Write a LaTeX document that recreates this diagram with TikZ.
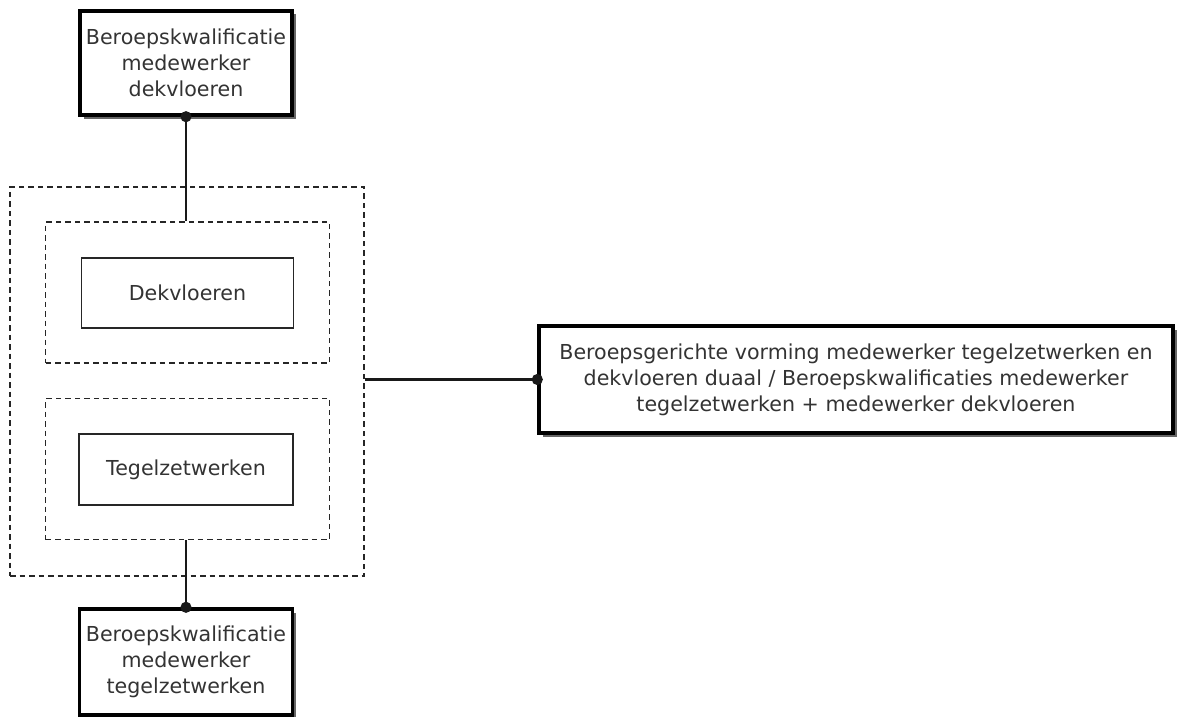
\documentclass[tikz,border=0pt]{standalone}
\usepackage{fontspec}
\setmainfont{DejaVu Sans}
\usetikzlibrary{arrows.meta,shadows}
\definecolor{txtgray}{HTML}{333333}
\tikzset{
  qualbox/.style={draw=black, line width=3.4pt, fill=white, align=center, inner sep=0pt,
    drop shadow={shadow xshift=3.5pt, shadow yshift=-3.5pt, fill=black, opacity=0.6}},
  unitbox/.style={draw=black!85, line width=1.8pt, fill=white, inner sep=0pt},
  groupbox/.style={draw=black!85, line width=1.7pt, dash pattern=on 5.5pt off 4pt, inner sep=0pt},
  conn/.style={line width=2.2pt, black!90}
}
\begin{document}
\begin{tikzpicture}[x=1pt, y=-1pt, font=\fontsize{20.6}{26}\selectfont, text=txtgray]
        \useasboundingbox (0,0) rectangle (1179,717);

        % Define the dashed groups
        \node[groupbox, minimum width=354pt, minimum height=389pt] (outer) at (187,381.5) {};
        \node[groupbox, minimum width=284pt, minimum height=141pt] (grpdek) at (187.5,292.5) {};
        \node[groupbox, minimum width=284pt, minimum height=141pt] (grptegel) at (187.5,469) {};

        % Draw the units inside the groups
        \node[unitbox, minimum width=212pt, minimum height=70pt] (dek) at (187.5,293) {Dekvloeren};
        \node[unitbox, minimum width=214pt, minimum height=71pt] (tegel) at (186,469.5) {Tegelzetwerken};

        % Draw the qualifications
        \node[qualbox, minimum width=212pt, minimum height=104pt] (qdek) at (186,63)
          {Beroepskwalificatie\\medewerker\\dekvloeren};
        \node[qualbox, minimum width=213pt, minimum height=106pt] (qtegel) at (186,662)
          {Beroepskwalificatie\\medewerker\\tegelzetwerken};
        \node[qualbox, minimum width=634pt, minimum height=107pt] (duaal) at (856,379.5)
          {Beroepsgerichte vorming medewerker tegelzetwerken en\\dekvloeren duaal / Beroepskwalificaties medewerker\\tegelzetwerken + medewerker dekvloeren};

        % Draw connectors, dot centred on the box border
        \draw[conn, {Circle[length=11pt]}-, shorten <=-5.5pt] (qdek.south) -- (qdek.south |- grpdek.north);
        \draw[conn, -{Circle[length=11pt]}, shorten >=-5.5pt] (outer.east |- duaal.west) -- (duaal.west);
        \draw[conn, -{Circle[length=11pt]}, shorten >=-5.5pt] (grptegel.south -| qtegel.north) -- (qtegel.north);
    \end{tikzpicture}
\end{document}
